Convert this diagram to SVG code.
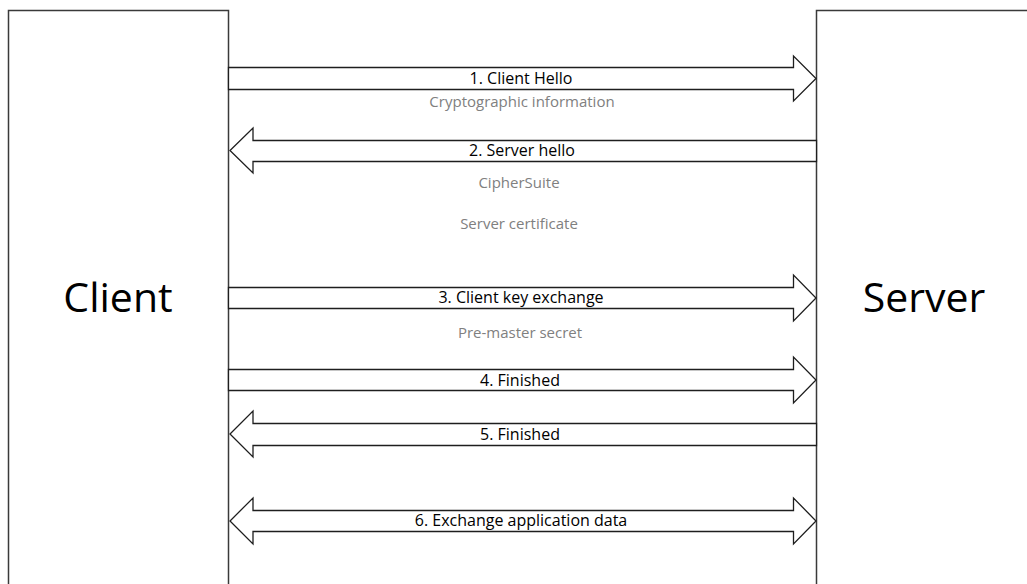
<svg xmlns="http://www.w3.org/2000/svg" width="1027" height="584" viewBox="0 0 1027 584">
  <style>
    .box { fill: #ffffff; stroke: #3a3a3a; stroke-width: 1.5; }
    .arrow { fill: #ffffff; stroke: #1e1e1e; stroke-width: 1.3; stroke-linejoin: miter; }
    .party { font-family: "Open Sans", "Liberation Sans", sans-serif; font-size: 41px; fill: #000000; text-anchor: middle; }
    .msg { font-family: "Open Sans", "Liberation Sans", sans-serif; font-size: 16px; fill: #000000; text-anchor: middle; }
    .note { font-family: "Open Sans", "Liberation Sans", sans-serif; font-size: 15px; fill: #808080; text-anchor: middle; }
  </style>
  <rect width="1027" height="584" fill="#ffffff"/>

  <g id="client">
    <rect class="box" x="8.5" y="10.5" width="220" height="600"/>
    <text class="party" x="118" y="312">Client</text>
  </g>

  <g id="server">
    <rect class="box" x="816.5" y="10.5" width="250" height="600"/>
    <text class="party" x="924" y="312">Server</text>
  </g>

  <g id="connectors">
    <g id="msg1">
      <path class="arrow" d="M228.5,67.5 H793.5 V56 L816,78.5 L793.5,101 V89.5 H228.5 Z"/>
      <text class="msg" x="521" y="84">1. Client Hello</text>
      <text class="note" x="522" y="107">Cryptographic information</text>
    </g>
    <g id="msg2">
      <path class="arrow" d="M816.5,140.5 H253 V128 L230,150.5 L253,173 V161.5 H816.5 Z"/>
      <text class="msg" x="522" y="156">2. Server hello</text>
      <text class="note" x="519" y="188">CipherSuite</text>
      <text class="note" x="519" y="229">Server certificate</text>
    </g>
    <g id="msg3">
      <path class="arrow" d="M228.5,287.5 H793.5 V275 L816,298 L793.5,321 V308.5 H228.5 Z"/>
      <text class="msg" x="521" y="303">3. Client key exchange</text>
      <text class="note" x="520" y="338">Pre-master secret</text>
    </g>
    <g id="msg4">
      <path class="arrow" d="M228.5,369.5 H793.5 V357 L816,380 L793.5,403 V390.5 H228.5 Z"/>
      <text class="msg" x="520" y="386">4. Finished</text>
    </g>
    <g id="msg5">
      <path class="arrow" d="M816.5,423.5 H253 V411 L230,434 L253,457 V445.5 H816.5 Z"/>
      <text class="msg" x="520" y="440">5. Finished</text>
    </g>
    <g id="msg6">
      <path class="arrow" d="M253,510.5 H793.5 V498 L816,521 L793.5,544 V531.5 H253 V544 L230,521 L253,498 Z"/>
      <text class="msg" x="521" y="526">6. Exchange application data</text>
    </g>
  </g>
</svg>
